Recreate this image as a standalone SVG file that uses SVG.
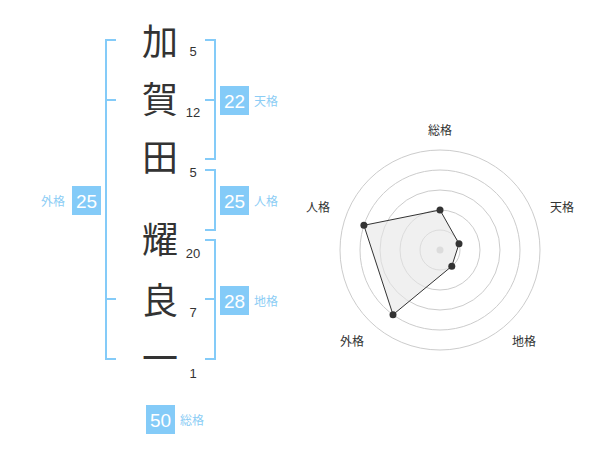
<svg xmlns="http://www.w3.org/2000/svg" width="600" height="470" viewBox="0 0 600 470">
<style>
.k{font-family:"Noto Sans CJK JP","Noto Sans CJK SC",sans-serif;font-size:36px;fill:#333;text-anchor:middle}
.n{font-family:"Liberation Sans",Arial,sans-serif;font-size:13px;fill:#333;text-anchor:middle}
.br{fill:none;stroke:#84cbf8;stroke-width:2}
.box{fill:#84cbf8}
.bt{font-family:"Liberation Sans",Arial,sans-serif;font-size:19px;fill:#fff;text-anchor:middle}
.lb{font-family:"Noto Sans CJK JP","Noto Sans CJK SC",sans-serif;font-size:12px;fill:#8ccdf5}
.rl{font-family:"Noto Sans CJK JP","Noto Sans CJK SC",sans-serif;font-size:12px;fill:#333;text-anchor:middle}
.ring{fill:none;stroke:#ccc;stroke-width:1}
</style>
<rect width="600" height="470" fill="#fff"/>
<g id="name">
<text class="k" x="160" y="55">加</text>
<text class="k" x="160" y="113">賀</text>
<text class="k" x="160" y="171">田</text>
<text class="k" x="160" y="253">耀</text>
<text class="k" x="160" y="314">良</text>
<text class="k" x="160" y="372">一</text>
<text class="n" x="193" y="56">5</text>
<text class="n" x="193" y="117">12</text>
<text class="n" x="193" y="177">5</text>
<text class="n" x="193" y="258">20</text>
<text class="n" x="193" y="317">7</text>
<text class="n" x="193" y="378">1</text>
</g>
<g id="connectors">
<path class="br" d="M116,40 H106 V359 H116 M106,100 H116 M106,299 H116"/>
<path class="br" d="M205,40 H215 V159 H205 M205,100 H215"/>
<path class="br" d="M205,170 H215 V230 H205"/>
<path class="br" d="M205,240 H215 V359 H205 M205,299 H215"/>
</g>
<g id="tenkaku">
<rect class="box" x="220" y="86" width="29" height="29"/>
<text class="bt" x="234.5" y="107.5">22</text>
<text class="lb" x="254" y="106">天格</text>
</g>
<g id="jinkaku">
<rect class="box" x="220" y="186" width="29" height="29"/>
<text class="bt" x="234.5" y="207.5">25</text>
<text class="lb" x="254" y="206">人格</text>
</g>
<g id="chikaku">
<rect class="box" x="220" y="286" width="29" height="29"/>
<text class="bt" x="234.5" y="307.5">28</text>
<text class="lb" x="254" y="306">地格</text>
</g>
<g id="gaikaku">
<rect class="box" x="72" y="186" width="29" height="29"/>
<text class="bt" x="86.5" y="207.5">25</text>
<text class="lb" x="41" y="206">外格</text>
</g>
<g id="soukaku">
<rect class="box" x="146" y="405" width="29" height="29"/>
<text class="bt" x="160.5" y="426.5">50</text>
<text class="lb" x="180" y="425">総格</text>
</g>
<g id="radar">
<circle class="ring" cx="440" cy="250" r="20"/>
<circle class="ring" cx="440" cy="250" r="40"/>
<circle class="ring" cx="440" cy="250" r="60"/>
<circle class="ring" cx="440" cy="250" r="80"/>
<circle class="ring" cx="440" cy="250" r="100"/>
<circle cx="440" cy="250" r="3.5" fill="#ccc"/>
<polygon points="440,210 459,243.8 451.8,266.2 393,314.7 363.9,225.3" fill="#e6e6e6" fill-opacity="0.6" stroke="#333" stroke-width="1"/>
<g fill="#333">
<circle cx="440" cy="210" r="3.5"/>
<circle cx="459" cy="243.8" r="3.5"/>
<circle cx="451.8" cy="266.2" r="3.5"/>
<circle cx="393" cy="314.7" r="3.5"/>
<circle cx="363.9" cy="225.3" r="3.5"/>
</g>
<text class="rl" x="440" y="135">総格</text>
<text class="rl" x="562" y="212">天格</text>
<text class="rl" x="524" y="346">地格</text>
<text class="rl" x="352" y="346">外格</text>
<text class="rl" x="318" y="212">人格</text>
</g>
</svg>
